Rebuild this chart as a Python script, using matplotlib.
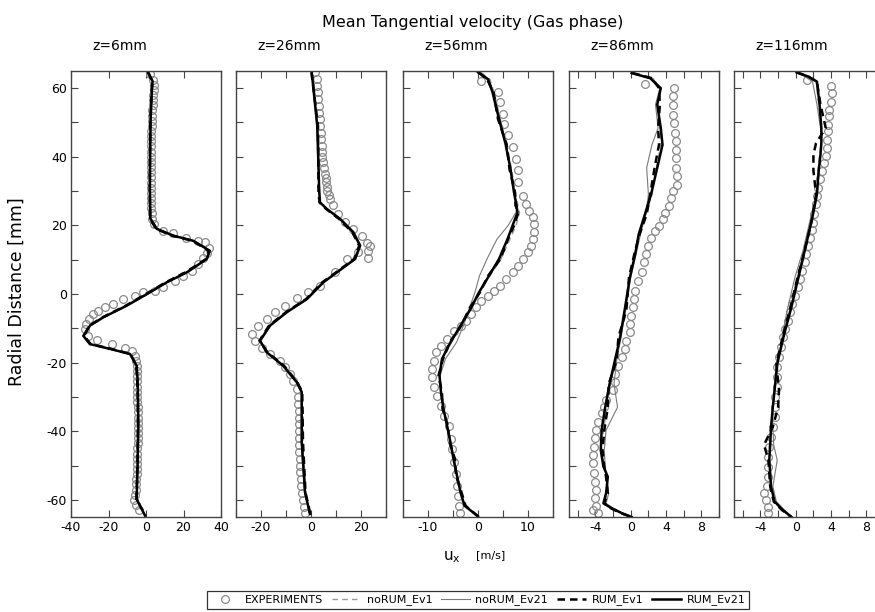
import numpy as np
import matplotlib
matplotlib.use('Agg')
import matplotlib.pyplot as plt
from matplotlib.ticker import MultipleLocator
from matplotlib.lines import Line2D

plt.rcParams['font.family'] = 'DejaVu Sans'
plt.rcParams['axes.unicode_minus'] = False

# Panel titles and x ranges
titles = ['z=6mm', 'z=26mm', 'z=56mm', 'z=86mm', 'z=116mm']
xlims = [(-40, 40), (-30, 30), (-15, 15), (-7, 10), (-7, 10)]
xmajor = [20, 20, 10, 4, 4]
xminor = [20, 10, 5, 2, 2]

# ---- z=6mm ----
exp1_y = [64, 62.5, 61, 59.5, 58, 56.5, 55, 53.5, 52, 50.5, 49, 47.5, 46, 44.5, 43, 41.5, 40, 38.5, 37, 35.5,
          34, 32.5, 31, 29.5, 28, 26.5, 25, 23.5, 22, 20.5,
          18.5, 17.8, 16.3, 15.5, 15.1, 13.5, 12.0, 10.5, 8.7, 6.8, 5.3, 3.9, 1.9, 1.0, 0.5, -0.5, -1.5, -2.9,
          -3.9, -4.9, -5.8, -7.3, -8.7, -10.2, -12.1, -13.3, -14.6, -15.6, -16.5, -18,
          -19.5, -21, -22.5, -24, -25.5, -27, -28.5, -30, -31.5, -33, -34.5, -36, -37.5, -39, -40.5, -42,
          -43.5, -45, -46.5, -48, -49.5, -51, -52.5, -54, -55.5, -57, -58.5, -60, -61.5, -63]
exp1_x = [2.0, 3.5, 4.0, 4.1, 3.9, 3.7, 3.5, 3.4, 3.2, 3.1, 3.0, 2.9, 2.8, 2.8, 2.7, 2.6, 2.6, 2.5, 2.5, 2.5,
          2.4, 2.4, 2.5, 2.5, 2.6, 2.7, 2.8, 3.0, 3.4, 4.5,
          9.2, 14.6, 21.3, 27.9, 31.5, 33.5, 32.5, 30.5, 27.9, 24.4, 19.9, 15.5, 9.2, 4.8, -1.4, -5.9, -12.1, -17.4,
          -21.9, -25.4, -28.1, -30.2, -32.0, -32.5, -30.8, -26.3, -18.3, -11.2, -7.6, -5.9,
          -5.2, -5.0, -4.9, -4.8, -4.8, -4.7, -4.7, -4.6, -4.6, -4.5, -4.5, -4.5, -4.4, -4.4, -4.4, -4.5,
          -4.5, -4.6, -4.6, -4.7, -4.8, -4.9, -5.0, -5.1, -5.3, -5.5, -5.8, -6.2, -5.5, -3.5]
mod1_y = [64.6, 62, 58, 50, 40, 30, 22, 19, 17, 15.5, 12.6, 10.2, 6.3, 3.4, 0.5, -3.4, -6.8, -9.2, -12.2,
          -14.6, -16, -17.5, -20.9, -25, -30, -38.4, -50, -59.8, -64.6]
noRUM_Ev1_1 = [1.3, 3.6, 3.1, 2.5, 2.3, 2.2, 2.4, 5.9, 14.9, 25.5, 34.2, 32.6, 22.0, 11.3, 2.3, -10.0, -22.5,
               -29.7, -33.6, -30.1, -19.5, -8.7, -4.9, -4.4, -4.2, -4.0, -4.4, -4.9, -0.5]
noRUM_Ev21_1 = [1.5, 3.7, 3.2, 2.6, 2.4, 2.3, 2.6, 6.2, 15.2, 25.8, 34.4, 32.8, 22.3, 11.6, 2.6, -9.8, -22.3,
                -29.5, -33.8, -30.3, -19.8, -8.9, -4.8, -4.3, -4.1, -3.9, -4.3, -4.8, -0.6]
RUM_Ev1_1 = [1.0, 3.3, 2.9, 2.3, 2.1, 2.0, 2.2, 5.2, 14.0, 24.8, 33.5, 32.0, 21.0, 10.5, 1.5, -10.8, -23.2,
             -30.2, -33.0, -29.5, -18.5, -8.2, -5.2, -4.7, -4.4, -4.3, -4.6, -5.1, -0.3]
RUM_Ev21_1 = [1.2, 3.5, 3.0, 2.4, 2.2, 2.1, 2.3, 5.7, 14.6, 25.2, 34.0, 32.4, 21.7, 11.0, 2.1, -10.3, -22.8,
              -29.9, -33.4, -29.9, -19.2, -8.5, -5.0, -4.5, -4.3, -4.1, -4.5, -5.0, -0.5]

# ---- z=26mm ----
exp2_y = [64.6, 62.6, 60.7, 58.8, 56.8, 54.8, 52.9, 51, 49, 47, 45.1, 43.2, 41.3, 39.8, 38.4, 36.7, 35, 33.8,
          32.6, 31.3, 30.1, 28.9, 27.7, 25.8, 23.3, 20.9, 18.9, 17, 15, 14.1, 12.6, 12.1, 10.5, 10.2, 6.4,
          2.4, 0.5, -1.3, -3.4, -5.3, -7.3, -9.2, -11.6, -13.8, -15.6, -17.5, -19.4, -21.4, -23.3, -25.3,
          -27.7, -30, -32, -34, -36, -38, -40, -42, -44, -46, -48, -50, -52, -54, -56, -58, -60, -62, -63.7]
exp2_x = [1.6, 2.2, 2.5, 2.7, 2.9, 3.1, 3.3, 3.4, 3.6, 3.8, 4.0, 4.2, 4.3, 4.5, 4.7, 5.2, 5.6, 5.8,
          5.9, 6.2, 6.5, 7.0, 7.6, 8.9, 10.9, 13.6, 16.9, 20.3, 22.3, 23.5, 22.9, 18.9, 22.7, 14.3, 9.6,
          3.6, -1.1, -5.7, -10.4, -14.4, -17.7, -21.1, -23.7, -22.4, -19.7, -16.4, -12.4, -10.4, -8.4, -7.1,
          -5.7, -5.1, -5.1, -5.0, -5.0, -5.0, -4.9, -4.9, -4.8, -4.7, -4.6, -4.5, -4.4, -4.2, -4.0, -3.8,
          -3.4, -3.0, -2.4]
mod2_y = [64.6, 49, 29.6, 26.7, 24.8, 21.9, 18, 14.1, 10.2, 6.3, 3.4, -1.5, -5.3, -9.2, -13.6, -17, -20.9,
          -25.7, -28.6, -43.2, -57.8, -64.1]
noRUM_Ev1_2 = [0.4, 2.6, 3.4, 3.7, 6.4, 11.8, 17.1, 19.8, 17.8, 10.5, 5.1, -1.5, -9.5, -16.2, -20.3, -17.9,
               -11.3, -5.9, -3.8, -3.8, -2.5, -0.4]
noRUM_Ev21_2 = [0.5, 2.3, 3.5, 3.8, 6.6, 12.0, 17.3, 20.0, 18.0, 10.8, 5.3, -1.3, -9.3, -16.0, -20.1, -18.0,
                -11.5, -6.0, -3.9, -3.9, -2.6, -0.5]
RUM_Ev1_2 = [0.2, 2.8, 3.0, 3.4, 6.0, 11.2, 16.5, 19.3, 17.2, 10.0, 4.5, -2.0, -10.0, -16.8, -20.6, -17.4,
             -10.8, -5.5, -3.5, -3.2, -2.2, -0.3]
RUM_Ev21_2 = [0.3, 2.5, 3.3, 3.6, 6.3, 11.6, 16.9, 19.6, 17.6, 10.3, 4.9, -1.7, -9.7, -16.4, -20.4, -17.7,
              -11.1, -5.7, -3.7, -3.7, -2.4, -0.4]

# ---- z=56mm ----
exp3_y = [62.2, 58.8, 55.9, 52.5, 49.6, 46.2, 42.8, 39.4, 36, 32.6, 28.7, 26.3, 24.3, 22.4, 20.4, 18.2, 16,
          14.1, 12.1, 10.2, 8.3, 6.3, 4.4, 2.4, 1.0, -0.5, -1.9, -3.9, -5.8, -7.8, -9.2, -10.7, -13.1, -15.1,
          -17, -19.4, -21.9, -24.3, -27.2, -29.7, -32.6, -35.5, -38.4, -42.3, -45.2, -49.1, -52.5, -55.9,
          -58.8, -61.7, -63.8]
exp3_x = [0.5, 3.9, 4.3, 4.9, 5.2, 6.0, 6.9, 7.5, 7.9, 8.0, 8.9, 9.6, 10.2, 10.9, 11.1, 11.1, 10.9,
          10.6, 9.9, 8.9, 7.9, 6.9, 5.5, 4.4, 3.2, 1.9, 0.5, -0.5, -1.5, -2.5, -3.5, -4.9, -6.2, -7.5,
          -8.4, -8.9, -9.2, -9.2, -8.9, -8.2, -7.5, -6.9, -5.9, -5.5, -5.2, -4.9, -4.5, -4.2,
          -4.1, -3.9, -3.7]
mod3_y = [64.6, 62.6, 58.8, 51, 43.8, 36.4, 29.6, 25.8, 23.8, 19.9, 16, 10.2, 5.3, 0.5, -4.4, -9.2, -14.1,
          -18.9, -23.8, -28.7, -33.5, -38.4, -43.3, -48.1, -53, -57.8, -61.7, -64.8]
noRUM_Ev1_3 = [0.6, 2.4, 3.2, 4.5, 5.8, 6.7, 7.5, 8.0, 8.3, 7.6, 6.4, 4.6, 2.4, 0.3, -1.4, -3.4, -5.3,
               -7.0, -7.6, -7.3, -6.8, -6.1, -5.4, -4.8, -4.1, -3.4, -2.6, 0.0]
noRUM_Ev21_3 = [0.4, 2.2, 3.1, 4.4, 5.6, 6.6, 7.3, 7.8, 7.6, 6.0, 3.8, 1.8, 0.3, -0.6, -1.8, -2.9, -4.3,
                -6.5, -7.6, -7.3, -6.8, -6.1, -5.4, -4.8, -4.1, -3.4, -2.6, 0.0]
RUM_Ev1_3 = [0.1, 1.8, 3.1, 4.0, 5.7, 6.3, 7.4, 7.5, 8.1, 7.2, 6.0, 4.5, 2.0, 0.4, -1.8, -3.3, -5.7,
             -7.0, -7.9, -7.2, -7.1, -6.0, -5.7, -4.6, -4.4, -3.3, -2.5, 0.0]
RUM_Ev21_3 = [0.0, 2.0, 2.9, 4.2, 5.5, 6.5, 7.2, 7.7, 7.9, 6.9, 5.9, 4.2, 2.2, 0.2, -1.5, -3.5, -5.5,
              -7.2, -7.7, -7.4, -6.9, -6.2, -5.5, -4.9, -4.2, -3.5, -2.7, 0.0]

# ---- z=86mm ----
exp4_y = [61.2, 60, 57.6, 55.2, 52.2, 49.8, 46.9, 44.5, 42, 39.6, 36.8, 34.3, 31.9, 30, 28, 25.6, 23.7,
          21.8, 19.8, 18.4, 16.4, 14, 11.6, 9.2, 6.3, 3.9, 1.0, -1.5, -3.9, -6.3, -8.7, -11.1, -13.6, -16,
          -18.4, -20.9, -23.3, -25.7, -28, -31, -32.9, -34.8, -37.3, -39.7, -42.1, -44.5, -47, -49.4,
          -52.3, -54.7, -57.1, -59.6, -61.9, -62.9, -63.9]
exp4_x = [1.6, 4.9, 4.8, 4.8, 4.8, 4.9, 5.0, 5.1, 5.1, 5.1, 5.1, 5.2, 5.2, 4.8, 4.6, 4.3, 3.9,
          3.6, 3.2, 2.7, 2.3, 2.0, 1.7, 1.5, 1.3, 0.8, 0.5, 0.4, 0.3, 0.0, -0.1, -0.1, -0.5, -0.7,
          -1.0, -1.4, -1.8, -1.8, -2.0, -2.8, -3.0, -3.3, -3.7, -3.9, -4.1, -4.2, -4.3, -4.3,
          -4.2, -4.1, -3.9, -4.0, -3.9, -4.3, -3.7]
mod4_y = [64.4, 62.9, 60, 55.2, 48.4, 43.5, 36.8, 29, 23.2, 17.4, 11.6, 4.8, -4.8, -12.6, -19.4, -26.2,
          -33, -39.7, -45.5, -50.3, -53.3, -58.1, -61, -62.4, -63.9, -65]
noRUM_Ev1_4 = [0.2, 2.3, 3.3, 3.1, 3.3, 3.4, 2.9, 2.4, 1.7, 1.0, 0.5, -0.1, -0.6, -1.3, -1.7, -2.3,
               -2.7, -3.1, -3.3, -3.0, -2.7, -2.7, -3.0, -2.1, -1.0, 0.1]
noRUM_Ev21_4 = [0.3, 2.5, 3.3, 2.8, 3.1, 2.4, 1.8, 2.0, 1.7, 1.1, 0.6, 0.0, -0.6, -1.1, -1.6, -1.9,
                -1.5, -2.8, -3.0, -2.9, -2.7, -2.5, -2.8, -2.0, -0.9, 0.1]
RUM_Ev1_4 = [0.2, 2.4, 3.2, 3.3, 3.1, 3.2, 2.7, 2.2, 1.8, 1.0, 0.4, -0.2, -0.5, -1.4, -1.6, -2.5,
             -2.6, -3.0, -3.2, -3.0, -2.8, -2.6, -3.0, -2.3, -1.1, 0.1]
RUM_Ev21_4 = [0.1, 2.2, 3.4, 3.0, 3.4, 3.6, 3.0, 2.3, 1.6, 0.9, 0.5, -0.1, -0.7, -1.2, -1.8, -2.4,
              -2.9, -3.3, -3.4, -3.1, -2.6, -2.8, -3.1, -2.2, -1.0, 0.1]

# ---- z=116mm ----
exp5_y = [62.4, 60.5, 58.5, 56.1, 53.7, 51.8, 49.3, 47.4, 45, 42.6, 40.1, 38.2, 35.8, 33.4, 30.9, 28.5,
          26.1, 23.2, 20.8, 18.8, 16.4, 14, 11.6, 9.2, 6.8, 4.3, 1.9, -0.5, -2.9, -5.3, -7.8, -10.2,
          -12.6, -15.5, -18.4, -21.3, -24.2, -27.1, -30, -32.9, -35.8, -38.7, -41.6, -44.5, -47.4,
          -50.3, -53.3, -56.1, -58.1, -60, -62, -63.9]
exp5_x = [1.3, 4.0, 4.1, 4.0, 3.8, 3.8, 3.7, 3.6, 3.5, 3.5, 3.4, 3.2, 3.0, 2.8, 2.5, 2.4,
          2.3, 2.1, 2.0, 1.8, 1.6, 1.4, 1.2, 1.0, 0.7, 0.5, 0.2, -0.1, -0.4, -0.7, -0.9, -1.2,
          -1.5, -1.7, -1.9, -2.1, -2.1, -2.1, -2.3, -2.3, -2.4, -2.6, -2.8, -3.0, -3.1,
          -3.2, -3.2, -3.3, -3.6, -3.4, -3.2, -3.2]
mod5_y = [64.6, 63.4, 61.9, 55.2, 48.4, 44, 40.6, 36, 29, 21.3, 12.5, 4.8, -3.9, -11.6, -20.3, -28, -33,
          -38.7, -44, -48.4, -56.1, -60.5, -62.9, -65]
noRUM_Ev1_5 = [0.1, 1.3, 2.3, 2.6, 2.9, 2.9, 2.7, 2.5, 2.3, 1.7, 0.9, 0.2, -0.6, -1.4, -2.2, -2.5, -2.6,
               -2.8, -3.0, -3.0, -2.8, -2.4, -1.5, -0.5]
noRUM_Ev21_5 = [0.1, 1.0, 1.9, 2.4, 2.8, 2.9, 2.8, 2.6, 2.3, 1.6, 0.8, -0.1, -0.9, -1.5, -2.0, -2.4, -2.6,
                -2.6, -2.5, -2.1, -2.6, -2.2, -1.3, -0.4]
RUM_Ev1_5 = [0.1, 1.4, 2.4, 2.8, 3.4, 2.3, 2.0, 2.0, 2.3, 1.8, 1.0, 0.2, -0.6, -1.4, -2.2, -1.9, -2.0,
             -2.6, -3.6, -3.1, -2.9, -2.5, -1.6, -0.5]
RUM_Ev21_5 = [0.1, 1.4, 2.4, 2.7, 2.9, 2.9, 2.8, 2.6, 2.4, 1.8, 1.0, 0.3, -0.5, -1.3, -2.1, -2.4, -2.6,
              -2.8, -2.9, -3.0, -2.8, -2.4, -1.5, -0.5]

panels = [
    (exp1_x, exp1_y, mod1_y, [noRUM_Ev1_1, noRUM_Ev21_1, RUM_Ev1_1, RUM_Ev21_1]),
    (exp2_x, exp2_y, mod2_y, [noRUM_Ev1_2, noRUM_Ev21_2, RUM_Ev1_2, RUM_Ev21_2]),
    (exp3_x, exp3_y, mod3_y, [noRUM_Ev1_3, noRUM_Ev21_3, RUM_Ev1_3, RUM_Ev21_3]),
    (exp4_x, exp4_y, mod4_y, [noRUM_Ev1_4, noRUM_Ev21_4, RUM_Ev1_4, RUM_Ev21_4]),
    (exp5_x, exp5_y, mod5_y, [noRUM_Ev1_5, noRUM_Ev21_5, RUM_Ev1_5, RUM_Ev21_5]),
]

model_names = ['noRUM_Ev1', 'noRUM_Ev21', 'RUM_Ev1', 'RUM_Ev21']
model_styles = [
    dict(color='#9a9a9a', lw=1.0, ls=(0, (4, 3))),
    dict(color='#7a7a7a', lw=0.8, ls='-'),
    dict(color='black', lw=1.8, ls=(0, (3, 2))),
    dict(color='black', lw=1.8, ls='-'),
]
exp_style = dict(ls='none', marker='o', mfc='none', mec='#8a8a8a', ms=5.6, mew=0.9)

W, H = 875, 612
fig = plt.figure(figsize=(W / 100, H / 100), dpi=100)

lefts = [71, 236, 403, 569, 734]
pw, top, bot = 150, 71, 517

for i, (ex, ey, my, mods) in enumerate(panels):
    ax = fig.add_axes([lefts[i] / W, 1 - bot / H, pw / W, (bot - top) / H])
    ax.plot(ex, ey, **exp_style)
    for xs, st in zip(mods, model_styles):
        ax.plot(xs, my, **st)
    ax.set_xlim(*xlims[i])
    ax.set_ylim(-65, 65)
    ax.xaxis.set_major_locator(MultipleLocator(xmajor[i]))
    ax.xaxis.set_minor_locator(MultipleLocator(xminor[i]))
    ax.yaxis.set_major_locator(MultipleLocator(20))
    ax.yaxis.set_minor_locator(MultipleLocator(10))
    ax.tick_params(which='both', direction='in', top=True, right=False, length=5,
                   width=0.8, color='#444444', labelsize=9, pad=3)
    if i > 0:
        ax.tick_params(labelleft=False)
    for sp in ax.spines.values():
        sp.set_color('#444444')
        sp.set_linewidth(1.0)
    ax.text(0.14, 1.055, titles[i], transform=ax.transAxes, ha='left', va='center', fontsize=10)

fig.text(473 / W, 1 - 22 / H, 'Mean Tangential velocity (Gas phase)', ha='center', va='center', fontsize=11.5)
fig.text(17 / W, 1 - 292 / H, 'Radial Distance [mm]', rotation=90, ha='center', va='center', fontsize=12.5)
fig.text(452 / W, 1 - 557 / H, r'u$_\mathregular{x}$', ha='center', va='center', fontsize=11)
fig.text(491 / W, 1 - 555 / H, '[m/s]', ha='center', va='center', fontsize=8)

handles = [Line2D([], [], **exp_style)] + [Line2D([], [], **st) for st in model_styles]
labels = ['EXPERIMENTS'] + model_names
leg = fig.legend(handles, labels, loc='center', bbox_to_anchor=(478 / W, 1 - 600 / H), ncol=5,
                 fontsize=8, frameon=True, fancybox=False, edgecolor='black', handlelength=2.6,
                 columnspacing=0.8, handletextpad=0.5, borderpad=0.35)
leg.get_frame().set_linewidth(0.9)

fig.savefig('out.png', dpi=100)
